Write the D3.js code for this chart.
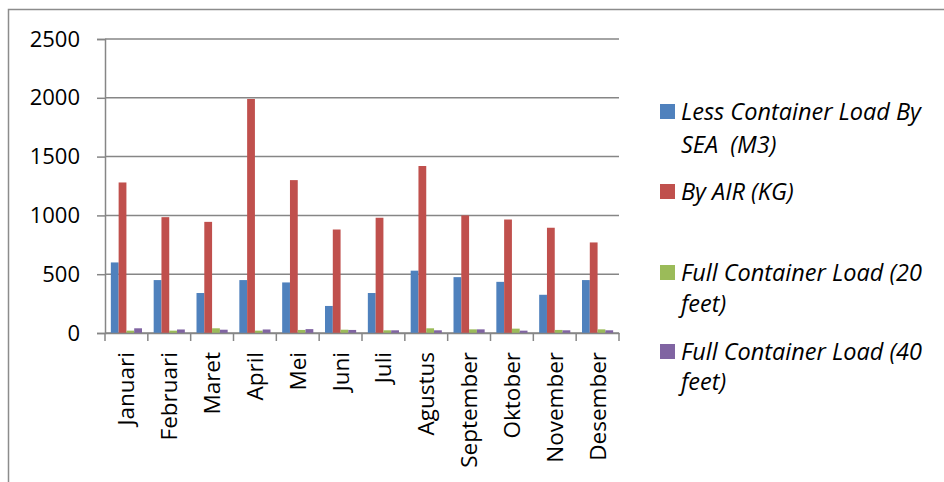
<!DOCTYPE html>
<html>
<head>
<meta charset="utf-8">
<script src="https://cdn.jsdelivr.net/npm/d3@7"></script>
<style>
  html, body { margin: 0; padding: 0; background: #fff; }
  svg { display: block; }
</style>
</head>
<body>
<svg id="chart" width="944" height="482"></svg>
<script>
const months = ["Januari","Februari","Maret","April","Mei","Juni","Juli","Agustus","September","Oktober","November","Desember"];
const seriesNames = ["Less Container Load By SEA  (M3)", "By AIR (KG)", "Full Container Load (20 feet)", "Full Container Load (40 feet)"];
const lclSea = [600, 450, 340, 450, 430, 230, 340, 530, 475, 435, 325, 450];
const byAir = [1280, 985, 945, 1990, 1300, 880, 980, 1420, 1000, 965, 895, 770];
const fcl20 = [20, 20, 40, 20, 26, 28, 23, 40, 31, 37, 26, 31];
const fcl40 = [40, 30, 28, 30, 33, 26, 23, 23, 31, 20, 23, 23];
const yTicks = [0, 500, 1000, 1500, 2000, 2500];
const colors = ["#4F81BD", "#C0504D", "#9BBB59", "#8064A2"];
const legendLines = [["Less Container Load By", "SEA  (M3)"], ["By AIR (KG)"], ["Full Container Load (20", "feet)"], ["Full Container Load (40", "feet)"]];

const allSeries = [lclSea, byAir, fcl20, fcl40];
const svg = d3.select("#chart");
const fontFam = "'Open Sans', sans-serif";

// frame
svg.append("path").attr("d", "M8.5,482 L8.5,9.5 L944,9.5")
  .attr("fill", "none").attr("stroke", "#8c8c8c").attr("stroke-width", 1.5);

const plot = { left: 105, right: 619, top: 39, bottom: 333 };
const x = d3.scaleBand().domain(months).range([plot.left, plot.right]).paddingInner(0).paddingOuter(0);
const y = d3.scaleLinear().domain([0, 2500]).range([plot.bottom, plot.top]);

// grid
svg.append("g").selectAll("line").data(yTicks).join("line")
  .attr("x1", plot.left).attr("x2", plot.right)
  .attr("y1", d => y(d)).attr("y2", d => y(d))
  .attr("stroke", "#868686").attr("stroke-width", 1.5);

// bars
const bw = x.bandwidth() / 5.5;
const g = svg.append("g");
allSeries.forEach((vals, si) => {
  g.selectAll(null).data(vals).join("rect")
    .attr("x", (d, i) => x(months[i]) + bw * 0.75 + si * bw)
    .attr("y", d => y(d))
    .attr("width", bw)
    .attr("height", d => y(0) - y(d))
    .attr("fill", colors[si]);
});

// y axis
const yAxis = d3.axisLeft(y).tickValues(yTicks).tickSize(8).tickPadding(17).tickFormat(d3.format("d"));
const ya = svg.append("g").attr("transform", `translate(${plot.left},0)`).call(yAxis);
ya.select(".domain").attr("stroke", "#868686").attr("stroke-width", 1.5);
ya.selectAll(".tick line").attr("stroke", "#868686").attr("stroke-width", 1.5);
ya.selectAll(".tick text").attr("font-family", fontFam).attr("font-size", 22).attr("fill", "#000");

// x axis
const xAxis = d3.axisBottom(x).tickSize(0).tickFormat("");
const xa = svg.append("g").attr("transform", `translate(0,${plot.bottom})`).call(xAxis);
xa.select(".domain").attr("stroke", "#868686").attr("stroke-width", 1.5);
// category boundary ticks
svg.append("g").selectAll("line").data(months.concat(["__end"])).join("line")
  .attr("x1", (d, i) => i < months.length ? x(d) : plot.right)
  .attr("x2", (d, i) => i < months.length ? x(d) : plot.right)
  .attr("y1", plot.bottom).attr("y2", plot.bottom + 8)
  .attr("stroke", "#868686").attr("stroke-width", 1.5);
// month labels
svg.append("g").selectAll("text").data(months).join("text")
  .attr("transform", d => `translate(${x(d) + x.bandwidth() / 2 + 8},352) rotate(-90)`)
  .attr("text-anchor", "end")
  .attr("font-family", fontFam).attr("font-size", 22.5).attr("fill", "#000")
  .text(d => d);

// legend
const legendBase = [[120, 153], [200], [281, 312], [360, 390]];
const lg = svg.append("g");
legendLines.forEach((lines, i) => {
  lg.append("rect").attr("x", 660).attr("y", legendBase[i][0] - 16).attr("width", 15).attr("height", 15).attr("fill", colors[i]);
  lines.forEach((t, j) => {
    lg.append("text").attr("x", 681).attr("y", legendBase[i][j])
      .attr("font-family", fontFam).attr("font-style", "italic").attr("font-size", 23.5).attr("fill", "#000")
      .style("white-space", "pre")
      .text(t);
  });
});
</script>
</body>
</html>
